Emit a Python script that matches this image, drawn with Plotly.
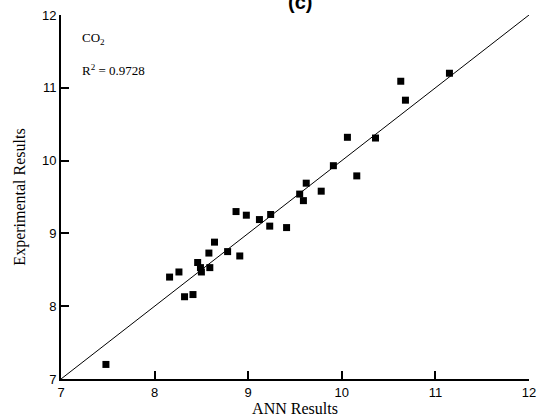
import plotly.graph_objects as go

ann_results = [7.48, 8.16, 8.26, 8.32, 8.41, 8.46, 8.49, 8.50, 8.59, 8.58, 8.64, 8.78, 8.91,
               8.87, 8.98, 9.12, 9.23, 9.24, 9.41, 9.55, 9.59, 9.62, 9.78, 9.91, 10.16,
               10.06, 10.36, 10.63, 10.68, 11.15]
exp_results = [7.20, 8.40, 8.47, 8.13, 8.16, 8.60, 8.53, 8.47, 8.53, 8.73, 8.88, 8.75, 8.69,
               9.30, 9.25, 9.19, 9.10, 9.26, 9.08, 9.54, 9.45, 9.69, 9.58, 9.93, 9.79,
               10.32, 10.31, 11.09, 10.83, 11.20]
diag = [7, 12]
axis_range = [7, 12]

fig = go.Figure()
fig.add_trace(go.Scatter(x=diag, y=diag, mode="lines",
                         line=dict(color="black", width=1), showlegend=False))
fig.add_trace(go.Scatter(x=ann_results, y=exp_results, mode="markers",
                         marker=dict(symbol="square", size=7, color="black"),
                         showlegend=False, cliponaxis=False))

axis_common = dict(
    showline=True, linecolor="black", linewidth=2,
    showgrid=False, zeroline=False,
    dtick=1,
    ticks="inside", ticklen=8, tickwidth=2, tickcolor="black",
    tickfont=dict(family="Liberation Sans, Arial", size=13, color="black"),
    range=axis_range,
)

fig.update_layout(
    width=541, height=417,
    margin=dict(l=61, r=12, t=15, b=38, autoexpand=False),
    paper_bgcolor="white", plot_bgcolor="white",
    xaxis=dict(**axis_common,
               title=dict(text="ANN Results", standoff=0,
                          font=dict(family="Liberation Serif, Times New Roman", size=16, color="black"))),
    yaxis=dict(**axis_common,
               title=dict(text="Experimental Results", standoff=12,
                          font=dict(family="Liberation Serif, Times New Roman", size=16, color="black"))),
    annotations=[
        dict(text="CO<sub>2</sub>", xref="paper", yref="paper", x=0.04, y=0.935,
             xanchor="left", yanchor="middle", showarrow=False,
             font=dict(family="Liberation Serif, Times New Roman", size=13, color="black")),
        dict(text="R<sup>2</sup> = 0.9728", xref="paper", yref="paper", x=0.04, y=0.85,
             xanchor="left", yanchor="middle", showarrow=False,
             font=dict(family="Liberation Serif, Times New Roman", size=13, color="black")),
        dict(text="<b>(c)</b>", xref="paper", yref="paper", x=0.51, y=1.0, yshift=13,
             xanchor="center", yanchor="middle", showarrow=False,
             font=dict(family="Liberation Sans, Arial", size=20, color="black")),
    ],
)

fig.write_html("out.html", config={"displayModeBar": False},
               post_script="document.body.style.margin='0';document.body.style.padding='0';document.body.style.overflow='hidden';")
